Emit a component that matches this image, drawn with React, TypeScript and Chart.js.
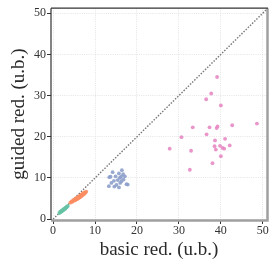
import React, { useEffect, useRef } from "react";
import { Chart, registerables } from "chart.js";

Chart.register(...registerables);

const xTickValues = [0, 10, 20, 30, 40, 50];
const yTickValues = [0, 10, 20, 30, 40, 50];
const xAxisTitle = "basic red. (u.b.)";
const yAxisTitle = "guided red. (u.b.)";
const diagonalX = [0, 52];
const diagonalY = [0, 52];

const greenX = [1.5, 1.7, 1.8, 2.0, 2.1, 2.2, 2.4, 2.5, 2.6, 2.8, 2.9, 3.0, 3.2, 3.3, 3.5];
const greenY = [1.5, 1.8, 1.7, 1.9, 2.1, 2.0, 2.3, 2.2, 2.5, 2.6, 2.5, 2.8, 2.9, 3.0, 3.2];

const orangeX = [4.1, 4.4, 4.6, 4.8, 5.0, 5.1, 5.3, 5.4, 5.6, 5.7, 5.8, 6.0, 6.1, 6.2, 6.3, 6.4, 6.5, 6.6, 6.7, 6.8, 6.9, 7.0, 7.1, 7.2, 7.4, 7.5, 7.7, 7.9];
const orangeY = [4.0, 4.3, 4.2, 4.6, 4.5, 4.8, 4.6, 5.0, 4.9, 5.2, 4.9, 5.3, 5.1, 5.5, 5.3, 5.7, 5.4, 5.8, 5.6, 6.0, 5.7, 6.1, 5.9, 6.3, 6.1, 6.5, 6.4, 6.7];

const blueX = [14.2, 15.7, 16.7, 14.9, 16.2, 13.7, 16.8, 15.4, 13.9, 15.1, 16.0, 17.5, 13.3, 14.6, 15.7, 16.4, 17.8, 13.4, 15.9, 14.5, 17.1, 16.3];
const blueY = [11.4, 11.1, 10.9, 10.4, 10.3, 10.3, 9.6, 9.5, 8.8, 8.3, 8.8, 8.5, 8.0, 7.9, 7.7, 11.9, 8.4, 10.2, 10.0, 9.3, 10.4, 9.2];

const pinkX = [39.1, 37.7, 36.5, 40.0, 33.3, 37.3, 39.2, 39.0, 42.7, 48.6, 36.6, 30.6, 38.6, 41.0, 38.5, 39.8, 40.4, 40.8, 42.1, 38.8, 27.8, 32.9, 40.0, 38.0, 32.6];
const pinkY = [34.5, 30.5, 29.1, 27.6, 22.3, 22.3, 22.5, 22.1, 22.8, 23.2, 20.6, 19.9, 19.1, 19.5, 17.7, 17.8, 17.3, 17.1, 17.9, 16.9, 17.1, 16.6, 15.3, 13.6, 12.0];

const toPoints = (xs: number[], ys: number[]) => xs.map((x, i) => ({ x, y: ys[i] }));

const spinesPlugin = {
  id: "spines",
  afterDatasetsDraw(chart: any) {
    const { ctx, chartArea } = chart;
    const { left, right, top, bottom } = chartArea;
    ctx.save();
    ctx.lineCap = "butt";
    ctx.strokeStyle = "#a0a0a0";
    ctx.lineWidth = 2.5;
    ctx.beginPath();
    ctx.moveTo(right + 0.5, top);
    ctx.lineTo(right + 0.5, bottom + 1.5);
    ctx.moveTo(left, bottom + 0.5);
    ctx.lineTo(right + 1.5, bottom + 0.5);
    ctx.stroke();
    ctx.strokeStyle = "#333333";
    ctx.lineWidth = 1.2;
    ctx.beginPath();
    ctx.moveTo(left, top);
    ctx.lineTo(right + 1, top);
    ctx.moveTo(left, top);
    ctx.lineTo(left, bottom);
    ctx.stroke();
    ctx.restore();
  },
};

export default function App() {
  const ref = useRef<HTMLCanvasElement | null>(null);

  useEffect(() => {
    if (!ref.current) return;
    const tickFont = { family: "'Liberation Serif', serif", size: 12 };
    const titleFont = { family: "'Liberation Serif', serif", size: 19 };
    const gridOpts = {
      color: "#dedede",
      lineWidth: 0.8,
      tickColor: "#333333",
      tickLength: 4,
      tickWidth: 1,
    };
    const chart = new Chart(ref.current, {
      type: "scatter",
      data: {
        datasets: [
          {
            type: "line",
            data: toPoints(diagonalX, diagonalY),
            borderColor: "#777777",
            borderWidth: 1.4,
            borderDash: [1.5, 1.5],
            pointRadius: 0,
            fill: false,
            order: 10,
          } as any,
          {
            data: toPoints(greenX, greenY),
            backgroundColor: "rgba(102,194,165,0.9)",
            borderWidth: 0,
            pointRadius: 1.9,
            order: 1,
          },
          {
            data: toPoints(orangeX, orangeY),
            backgroundColor: "rgba(252,141,98,0.9)",
            borderWidth: 0,
            pointRadius: 1.9,
            order: 1,
          },
          {
            data: toPoints(blueX, blueY),
            backgroundColor: "rgba(141,160,203,0.9)",
            borderWidth: 0,
            pointRadius: 1.9,
            order: 1,
          },
          {
            data: toPoints(pinkX, pinkY),
            backgroundColor: "rgba(231,138,195,0.9)",
            borderWidth: 0,
            pointRadius: 1.9,
            order: 1,
          },
        ],
      },
      options: {
        animation: false,
        responsive: false,
        maintainAspectRatio: false,
        layout: { padding: { top: 6, right: 7, left: 0, bottom: 0 } },
        plugins: { legend: { display: false }, tooltip: { enabled: false } },
        scales: {
          x: {
            type: "linear",
            min: -0.5,
            max: 51,
            afterBuildTicks: (s: any) => {
              s.ticks = xTickValues.map((v) => ({ value: v }));
            },
            afterFit: (s: any) => {
              s.height = 48;
            },
            grid: gridOpts,
            border: { display: false, dash: [1, 1.2] },
            ticks: { color: "#333333", font: tickFont, padding: 0, maxRotation: 0 },
            title: {
              display: true,
              text: xAxisTitle,
              color: "#2a2a2a",
              font: titleFont,
              padding: { top: 0, bottom: 6.6 },
            },
          },
          y: {
            type: "linear",
            min: -0.2,
            max: 51.2,
            afterBuildTicks: (s: any) => {
              s.ticks = yTickValues.map((v) => ({ value: v }));
            },
            afterFit: (s: any) => {
              s.width = 51;
            },
            grid: gridOpts,
            border: { display: false, dash: [1, 1.2] },
            ticks: { color: "#333333", font: tickFont, padding: 1 },
            title: {
              display: true,
              text: yAxisTitle,
              color: "#2a2a2a",
              font: titleFont,
              padding: { top: 8, bottom: 0 },
            },
          },
        },
      },
      plugins: [spinesPlugin],
    });
    return () => chart.destroy();
  }, []);

  return (
    <div style={{ position: "absolute", left: 0, top: 0, width: 274, height: 268 }}>
      <canvas ref={ref} width={274} height={268} style={{ display: "block" }} />
    </div>
  );
}
